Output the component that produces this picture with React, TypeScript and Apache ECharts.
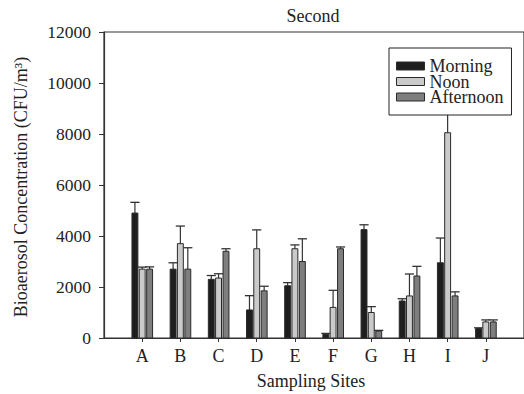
import React, { useEffect, useRef } from "react";
import * as echarts from "echarts";

const sites = ["A", "B", "C", "D", "E", "F", "G", "H", "I", "J"];
const morning = [4900, 2700, 2300, 1100, 2050, 150, 4250, 1450, 2950, 370];
const morningErr = [420, 250, 150, 560, 120, 30, 190, 90, 970, 30];
const noon = [2700, 3700, 2350, 3500, 3500, 1200, 1000, 1650, 8050, 630];
const noonErr = [80, 690, 170, 740, 150, 670, 230, 860, 2500, 80];
const afternoon = [2700, 2700, 3400, 1850, 3000, 3500, 270, 2430, 1650, 630];
const afternoonErr = [90, 840, 100, 180, 890, 70, 30, 380, 160, 80];
const yTicks = [0, 2000, 4000, 6000, 8000, 10000, 12000];

const FONT = "'Liberation Serif', 'Times New Roman', serif";
const EDGE = "#2a2a2a";

const seriesDefs = [
  { name: "Morning", vals: morning, errs: morningErr, fill: "#1e1e1e", off: -0.19 },
  { name: "Noon", vals: noon, errs: noonErr, fill: "#cacaca", off: 0 },
  { name: "Afternoon", vals: afternoon, errs: afternoonErr, fill: "#7e7e7e", off: 0.195 },
];

export default function App() {
  const ref = useRef<HTMLDivElement>(null);
  useEffect(() => {
    if (!ref.current) return;
    const chart = echarts.init(ref.current, undefined, { renderer: "svg" });
    const series = seriesDefs.map((s) => ({
      type: "custom",
      name: s.name,
      itemStyle: { color: s.fill, borderColor: EDGE, borderWidth: 1 },
      data: s.vals.map((v, i) => [i + 1, v, s.errs[i]]),
      renderItem: (params: any, api: any) => {
        const x = api.value(0);
        const y = api.value(1);
        const e = api.value(2);
        const unit = api.size([1, 0])[0];
        const base = api.coord([x, 0]);
        const top = api.coord([x, y]);
        const errTop = api.coord([x, y + e]);
        const cx = base[0] + s.off * unit;
        const w = 0.155 * unit;
        const cap = 0.24 * unit;
        return {
          type: "group",
          children: [
            {
              type: "line",
              shape: { x1: cx, y1: top[1], x2: cx, y2: errTop[1] },
              style: { stroke: "#333", lineWidth: 1.2 },
            },
            {
              type: "line",
              shape: { x1: cx - cap / 2, y1: errTop[1], x2: cx + cap / 2, y2: errTop[1] },
              style: { stroke: "#333", lineWidth: 1.3 },
            },
            {
              type: "rect",
              shape: { x: cx - w / 2, y: top[1], width: w, height: base[1] - top[1] },
              style: { fill: s.fill, stroke: EDGE, lineWidth: 1 },
            },
          ],
        };
      },
    }));

    chart.setOption({
      animation: false,
      backgroundColor: "#fff",
      grid: {
        left: 104,
        top: 32,
        right: -5,
        bottom: 56,
        show: true,
        borderColor: "#333",
        borderWidth: 1.2,
        backgroundColor: "transparent",
      },
      xAxis: {
        type: "value",
        min: 0,
        max: 11,
        interval: 1,
        splitLine: { show: false },
        axisLine: { show: true, onZero: false, lineStyle: { color: "#333", width: 1.2 } },
        axisTick: {
          show: true,
          length: 4,
          customValues: sites.map((_, i) => i + 1),
          lineStyle: { color: "#333" },
        },
        axisLabel: {
          customValues: sites.map((_, i) => i + 1),
          formatter: (v: number) => sites[v - 1] ?? "",
          fontFamily: FONT,
          fontSize: 18,
          color: "#222",
          margin: 9,
        },
      },
      yAxis: {
        type: "value",
        min: 0,
        max: 12000,
        interval: 2000,
        splitLine: { show: false },
        axisLine: { show: true, lineStyle: { color: "#333", width: 1.2 } },
        axisTick: { show: true, length: 5, lineStyle: { color: "#333" } },
        axisLabel: {
          formatter: (v: number) => (yTicks.includes(v) ? String(v) : ""),
          fontFamily: FONT,
          fontSize: 17.5,
          color: "#222",
          margin: 13,
        },
      },
      legend: {
        orient: "vertical",
        left: 389,
        top: 48,
        padding: [9, 8, 9, 7],
        itemGap: -2.5,
        itemWidth: 28,
        itemHeight: 8,
        borderColor: "#222",
        borderWidth: 1,
        backgroundColor: "#fff",
        textStyle: { fontFamily: FONT, fontSize: 18, color: "#222" },
        data: seriesDefs.map((s) => ({
          name: s.name,
          icon: "rect",
          itemStyle: { color: s.fill, borderColor: EDGE, borderWidth: 1 },
        })),
      },
      graphic: [
        {
          type: "text",
          x: 313,
          y: 16,
          style: {
            text: "Second",
            font: `18px ${FONT}`,
            fill: "#222",
            align: "center",
            verticalAlign: "middle",
          },
        },
        {
          type: "text",
          x: 311,
          y: 381,
          style: {
            text: "Sampling Sites",
            font: `18px ${FONT}`,
            fill: "#222",
            align: "center",
            verticalAlign: "middle",
          },
        },
        {
          type: "text",
          x: 21,
          y: 187,
          rotation: Math.PI / 2,
          style: {
            text: "Bioaerosol Concentration (CFU/m³)",
            font: `18px ${FONT}`,
            fill: "#222",
            align: "center",
            verticalAlign: "middle",
          },
        },
      ],
      series,
    });
    return () => chart.dispose();
  }, []);
  return (
    <div
      ref={ref}
      style={{ position: "fixed", left: 0, top: 0, width: 524, height: 394, background: "#fff" }}
    />
  );
}
